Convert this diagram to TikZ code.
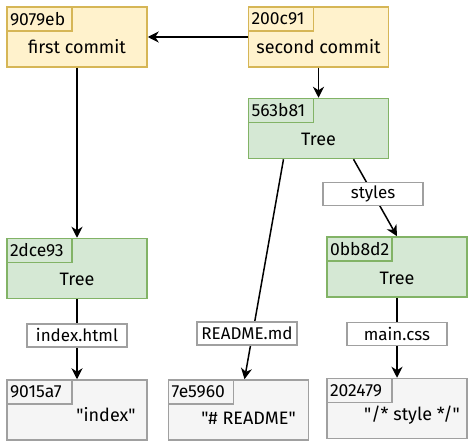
\documentclass[tikz,border=0pt]{standalone}
\usepackage{fontspec}
\setmainfont{Fira Sans}
\usepackage{xcolor}
\usetikzlibrary{arrows.meta, positioning}

\definecolor{commitfill}{HTML}{FFF2CC}
\definecolor{commitline}{HTML}{D6B656}
\definecolor{treefill}{HTML}{D5E8D4}
\definecolor{treeline}{HTML}{82B366}
\definecolor{blobfill}{HTML}{F5F5F5}
\definecolor{blobline}{HTML}{A0A0A0}

\begin{document}
\begin{tikzpicture}[
        x=1pt, y=1pt,
        node distance=30pt and 100pt,
        every node/.style={font=\fontsize{18}{20}\selectfont},
        obj/.style={draw, line width=1.5pt, minimum width=140pt, minimum height=60pt, inner sep=0pt},
        commit/.style={obj, fill=commitfill, draw=commitline},
        tree/.style={obj, fill=treefill, draw=treeline},
        blob/.style={obj, fill=blobfill, draw=blobline},
        hashbox/.style={draw, line width=1.5pt, anchor=north west, minimum width=65pt, minimum height=24pt, inner xsep=3pt, inner ysep=1pt, text width=59pt, align=left, font=\fontsize{17.5}{18}\selectfont},
        edgelbl/.style={draw=blobline, fill=white, line width=1.5pt, minimum width=100pt, minimum height=23pt, inner sep=0pt, font=\fontsize{17}{18}\selectfont},
        arr/.style={-{Stealth[length=11pt, width=11pt, inset=3.5pt]}, line width=1.5pt}
    ]
        \useasboundingbox (0,0) rectangle (474,-444);

        % commits
        \node[commit] (c1) at (77,-37) {};
        \node[commit, right=of c1] (c2) {};
        \node[hashbox, fill=commitfill, draw=commitline] (c1id) at (c1.north west) {9079eb};
        \node[hashbox, fill=commitfill, draw=commitline] (c2id) at (c2.north west) {200c91};
        \node[yshift=-10pt] (c1msg) at (c1) {first commit};
        \node[yshift=-10pt] (c2msg) at (c2) {second commit};

        % trees
        \node[tree, below=of c2] (t0) {};
        \node[tree, below=170pt of c1] (t1) {};
        \node[tree] (t2) at (397,-267) {};
        \node[hashbox, fill=treefill, draw=treeline] (t0id) at (t0.north west) {563b81};
        \node[hashbox, fill=treefill, draw=treeline] (t1id) at (t1.north west) {2dce93};
        \node[hashbox, fill=treefill, draw=treeline] (t2id) at (t2.north west) {0bb8d2};
        \node[yshift=-11pt] (t0txt) at (t0) {Tree};
        \node[yshift=-11pt] (t1txt) at (t1) {Tree};
        \node[yshift=-11pt] (t2txt) at (t2) {Tree};

        % blobs
        \node[blob, below=80pt of t1] (b1) {};
        \node[blob, right=20pt of b1] (b2) {};
        \node[blob, below=80pt of t2] (b3) {};
        \node[hashbox, fill=blobfill, draw=blobline] (b1id) at (b1.north west) {9015a7};
        \node[hashbox, fill=blobfill, draw=blobline] (b2id) at (b2.north west) {7e5960};
        \node[hashbox, fill=blobfill, draw=blobline] (b3id) at (b3.north west) {202479};
        \node[xshift=29pt, yshift=-5pt] (b1txt) at (b1) {\textquotedbl index\textquotedbl};
        \node[xshift=10pt, yshift=-8pt] (b2txt) at (b2) {\textquotedbl\# README\textquotedbl};
        \node[xshift=15pt, yshift=-7pt] (b3txt) at (b3) {\textquotedbl/* style */\textquotedbl};

        \draw[arr] (c2) -- (c1);
        \draw[arr] (c2) -- (t0);
        \draw[arr] (c1) -- (t1);
        \draw[arr] ([xshift=35pt]t0.south) -- node[edgelbl, pos=0.45] (lstyles) {styles} (t2.north);
        \draw[arr] ([xshift=-35pt]t0.south) -- ([xshift=6pt]b2.north);
        \node[edgelbl] (lreadme) at (247,-333.5) {README.md};
        \draw[arr] (t1) -- node[edgelbl, pos=0.45] (lindex) {index.html} (b1);
        \draw[arr] (t2) -- node[edgelbl, pos=0.45] (lmain) {main.css} (b3);
    \end{tikzpicture}
\end{document}
